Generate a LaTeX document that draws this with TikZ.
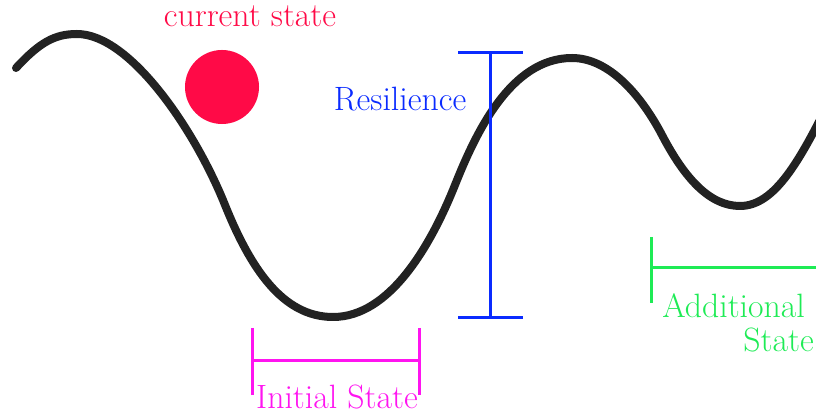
\documentclass[tikz,border=0pt]{standalone}
\usepackage{tikz}
\usetikzlibrary{positioning, calc}
\definecolor{statered}{HTML}{FF0A47}
\definecolor{resblue}{HTML}{0A2BFF}
\definecolor{initmagenta}{HTML}{FF14F0}
\definecolor{addgreen}{HTML}{1EEB55}
\definecolor{curvegray}{HTML}{222222}
\newcommand{\size}{\fontsize{24}{28}\selectfont}
\tikzset{
    landscape/.style = {draw=curvegray, line width=0.2cm, line cap=round, line join=round},
    bar/.style = {line width=0.075cm},
    txt/.style = {font=\size, inner sep=0pt},
%     ball
    ball/.style = {circle, fill=statered, minimum size=1.85cm, inner sep=0pt},
}

\begin{document}
\begin{tikzpicture}[x=0.025cm, y=-0.025cm]
        \useasboundingbox (0,0) rectangle (816,418);
        % Landscape
        \draw[landscape] (16,68) .. controls (40,42) and (55,34) .. (77,34)
            .. controls (130,34) and (195,130) .. (225,205)
            .. controls (250,267) and (282,317) .. (333,317)
            .. controls (390,317) and (431,245) .. (455,185)
            .. controls (475,135) and (510,58) .. (572,58)
            .. controls (610,58) and (642,97) .. (662,135)
            .. controls (685,179) and (710,206) .. (740,206)
            .. controls (775,206) and (800,160) .. (830,100);
        % Current state
        \node (cur) [txt, text=statered, anchor=base] at (250,27) {current state};
        \node (ball) [ball] at (222,87) {};
        % Resilience
        \coordinate (rtop) at (490,53);
        \coordinate (rbot) at (490,318);
        \coordinate (rtopl) at (458,53);
        \coordinate (rtopr) at (523,53);
        \coordinate (rbotl) at (458,318);
        \coordinate (rbotr) at (523,318);
        \draw[bar, resblue] (rtop) -- (rbot);
        \draw[bar, resblue] (rtopl) -- (rtopr);
        \draw[bar, resblue] (rbotl) -- (rbotr);
        \node (res) [txt, text=resblue, anchor=base] at (400,111) {Resilience};
        % Initial state
        \coordinate (itl) at (252,328);
        \coordinate (ibl) at (252,395);
        \coordinate (itr) at (419,328);
        \coordinate (ibr) at (419,395);
        \coordinate (iml) at (252,361);
        \coordinate (imr) at (419,361);
        \draw[bar, initmagenta] (itl) -- (ibl);
        \draw[bar, initmagenta] (itr) -- (ibr);
        \draw[bar, initmagenta] (iml) -- (imr);
        \node (init) [txt, text=initmagenta, anchor=base] at (337,409) {Initial State};
        % Additional state
        \coordinate (atl) at (651,237);
        \coordinate (abl) at (651,303);
        \coordinate (aml) at (651,268);
        \coordinate (amr) at (830,268);
        \draw[bar, addgreen] (atl) -- (abl);
        \draw[bar, addgreen] (aml) -- (amr);
        \node (add1) [txt, text=addgreen, anchor=base west] at (662,318) {Additional};
        \node (add2) [txt, text=addgreen, anchor=base east] at (814,352) {State};
\end{tikzpicture}
\end{document}
